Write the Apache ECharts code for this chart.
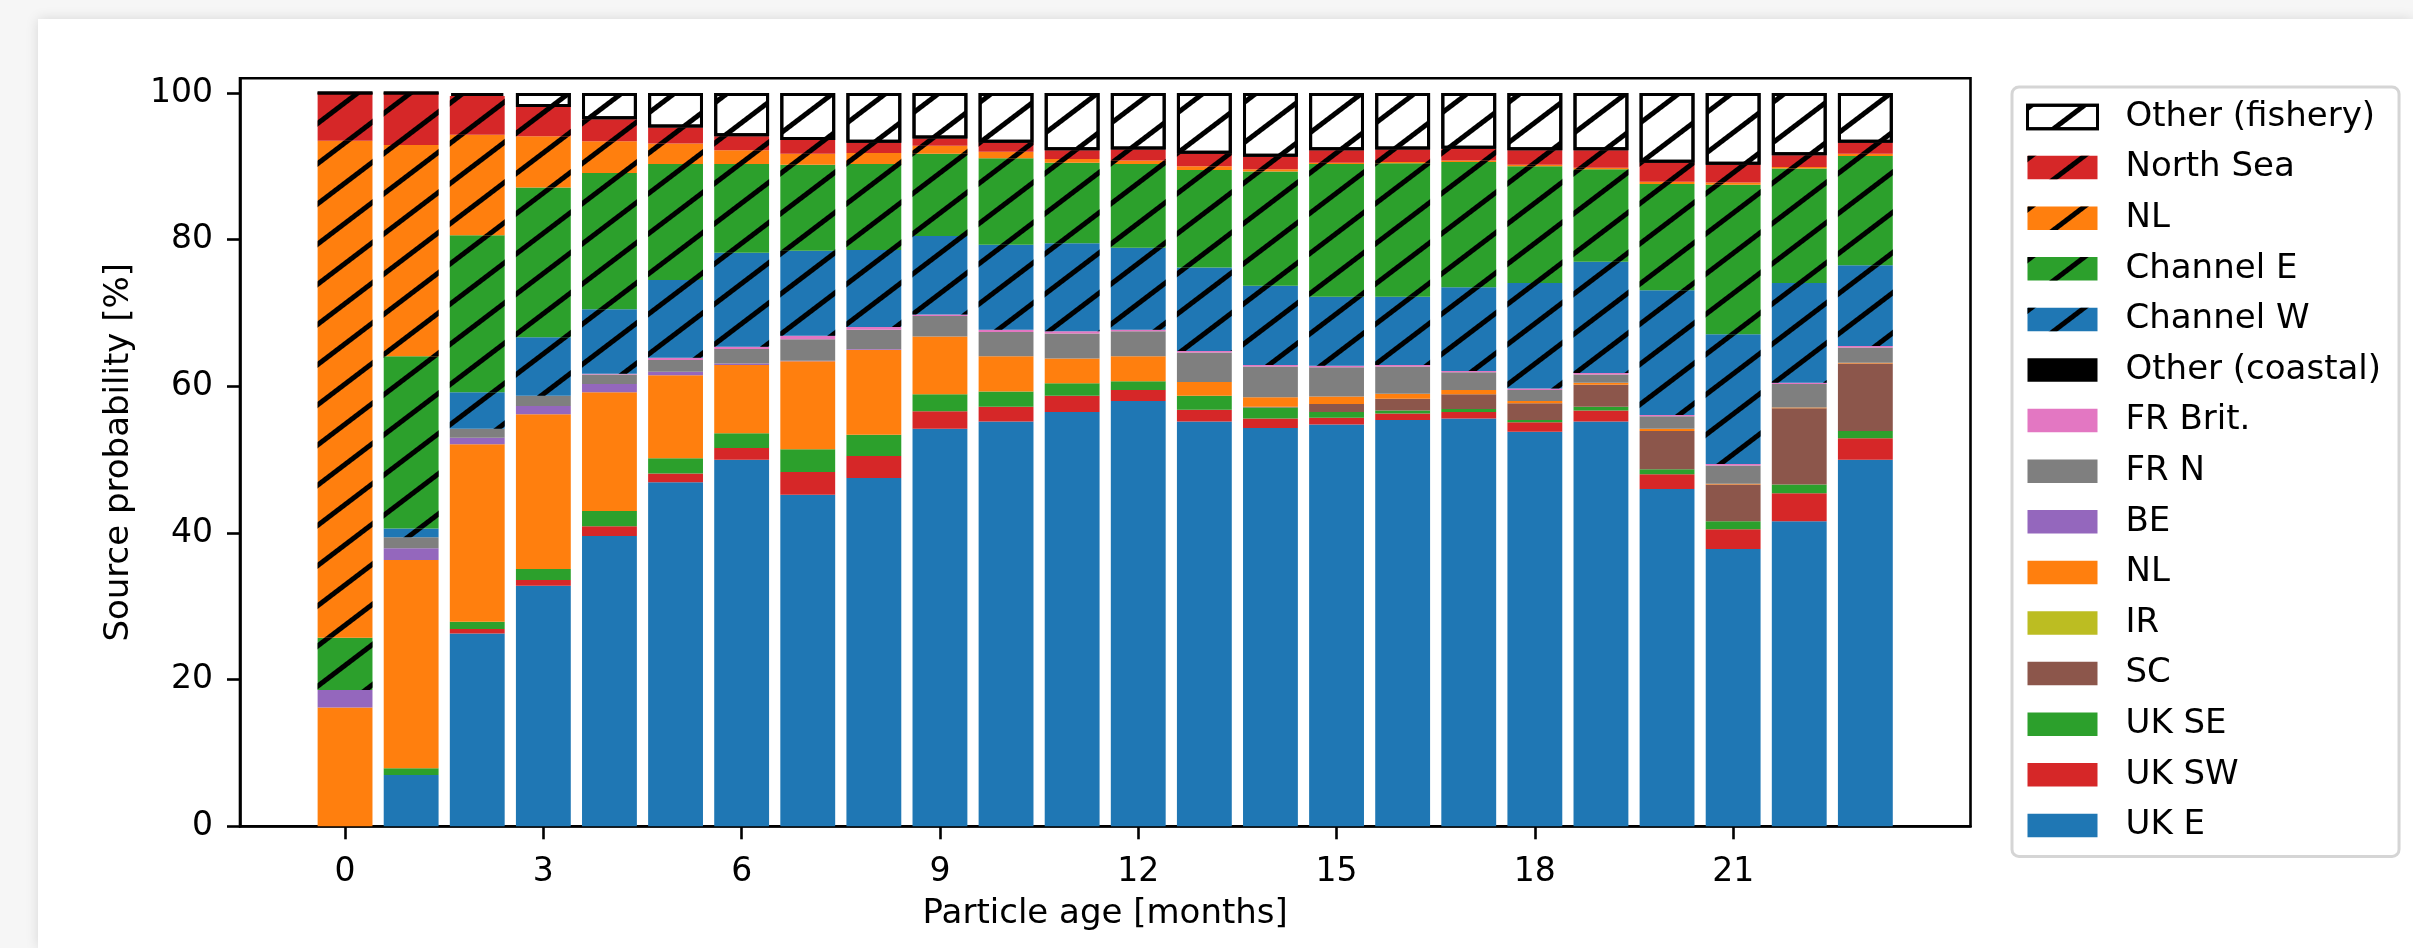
<!DOCTYPE html>
<html>
<head>
<meta charset="utf-8">
<script src="https://cdn.jsdelivr.net/npm/echarts@6/dist/echarts.min.js"></script>
<style>
html,body{margin:0;padding:0;width:2413px;height:948px;overflow:hidden;background:#f6f6f6;}
#card{position:absolute;left:38px;top:19px;width:2375px;height:929px;background:#fff;box-shadow:0 0 12px rgba(0,0,0,0.13);}
#chart{position:absolute;left:0;top:0;width:2413px;height:948px;}
</style>
</head>
<body>
<div id="card"></div>
<div id="chart"></div>
<script>
// ---- data (particle age in months) ----
const ages = ['0','1','2','3','4','5','6','7','8','9','10','11','12','13','14','15','16','17','18','19','20','21','22','23'];
const yTickValues = [0,20,40,60,80,100];

// coastal sources
const ukE     = [0,7.0,26.3,32.8,39.6,46.9,50.0,45.2,47.5,54.2,55.2,56.5,58.0,55.2,54.3,54.8,55.4,55.6,53.8,55.2,46.0,37.8,41.6,50.0];
const ukSW    = [0,0,0.6,0.8,1.3,1.2,1.6,3.1,3.0,2.4,2.0,2.2,1.5,1.6,1.3,0.9,0.9,0.9,1.3,1.5,2.0,2.7,3.8,2.9];
const ukSE    = [0,0.9,1.0,1.5,2.1,2.1,2.0,3.1,2.9,2.3,2.1,1.7,1.2,1.9,1.5,0.8,0.4,0.4,0.3,0.5,0.7,1.1,1.2,1.0];
const sc      = [0,0,0,0,0,0,0,0,0,0,0,0,0,0,0.1,1.1,1.6,2.0,2.3,3.0,5.2,5.0,10.4,9.2];
const ir      = [0,0,0,0,0,0,0,0,0,0,0,0,0,0,0,0,0,0,0,0,0,0,0,0];
const nlC     = [16.2,28.4,24.2,21.1,16.2,11.3,9.3,12.0,11.6,7.9,4.8,3.4,3.4,1.9,1.3,1.0,0.7,0.6,0.3,0.3,0.3,0.1,0.1,0.1];
const be      = [2.4,1.6,0.9,1.1,1.1,0.5,0.2,0.1,0.1,0,0,0,0,0,0,0,0,0,0,0,0,0,0,0];
const frN     = [0,1.5,1.2,1.4,1.3,1.6,2.0,2.9,2.6,2.8,3.3,3.4,3.4,4.0,4.2,4.0,3.7,2.4,1.5,1.1,1.7,2.5,3.2,2.1];
const frBrit  = [0,0,0,0,0.1,0.3,0.3,0.5,0.4,0.2,0.3,0.3,0.2,0.2,0.2,0.2,0.2,0.2,0.2,0.2,0.2,0.2,0.2,0.2];
const otherC  = [0,0,0,0,0,0,0,0,0,0,0,0,0,0,0,0,0,0,0,0,0,0,0,0];
// fishery sources
const chanW   = [0,1.2,5.0,8.0,8.8,10.6,12.8,11.6,10.5,10.7,11.6,12.0,11.2,11.4,10.8,9.4,9.3,11.4,14.4,15.2,17.0,17.7,13.6,11.0];
const chanE   = [7.1,23.5,21.4,20.4,18.6,15.8,12.1,11.7,11.7,11.2,11.8,11.0,11.4,13.3,15.6,18.1,18.2,17.1,15.9,12.6,14.5,20.4,15.6,14.9];
const nlF     = [67.8,28.8,13.7,7.0,4.3,2.8,1.9,1.5,1.5,1.1,0.9,0.5,0.5,0.5,0.3,0.2,0.2,0.2,0.2,0.2,0.3,0.3,0.2,0.3];
const northSea= [6.5,7.1,5.3,4.0,3.0,2.2,1.9,1.9,1.4,1.0,1.2,1.2,1.5,1.7,1.7,1.7,1.7,1.6,2.0,2.4,2.6,2.4,1.6,1.5];
const otherF  = [0,0,0.4,1.9,3.6,4.7,5.9,6.4,6.8,6.2,6.8,7.8,7.7,8.3,8.7,7.8,7.7,7.6,7.8,7.8,9.5,9.8,8.5,6.8];

// ---- styling ----
const FONT = 'DejaVu Sans';
const hatch = {
  symbol: 'rect', symbolSize: 1, symbolKeepAspect: false,
  color: '#000', dashArrayX: [1, 0], dashArrayY: [4.5, 26.5],
  rotation: -0.65
};

// stacking order: bottom -> top
const sources = [
  {key:'UK E', label:'UK E', data: ukE, color:'#1f77b4'},
  {key:'UK SW', label:'UK SW', data: ukSW, color:'#d62728'},
  {key:'UK SE', label:'UK SE', data: ukSE, color:'#2ca02c'},
  {key:'SC', label:'SC', data: sc, color:'#8c564b'},
  {key:'IR', label:'IR', data: ir, color:'#bcbd22'},
  {key:'NL (coastal)', label:'NL', data: nlC, color:'#ff7f0e'},
  {key:'BE', label:'BE', data: be, color:'#9467bd'},
  {key:'FR N', label:'FR N', data: frN, color:'#7f7f7f'},
  {key:'FR Brit.', label:'FR Brit.', data: frBrit, color:'#e377c2'},
  {key:'Other (coastal)', label:'Other (coastal)', data: otherC, color:'#000000'},
  {key:'Channel W', label:'Channel W', data: chanW, color:'#1f77b4', hatched:true},
  {key:'Channel E', label:'Channel E', data: chanE, color:'#2ca02c', hatched:true},
  {key:'NL (fishery)', label:'NL', data: nlF, color:'#ff7f0e', hatched:true},
  {key:'North Sea', label:'North Sea', data: northSea, color:'#d62728', hatched:true},
  {key:'Other (fishery)', label:'Other (fishery)', data: otherF, color:'#ffffff', hatched:true, edge:true}
];
const labelOf = {};
sources.forEach(s => { labelOf[s.key] = s.label; });

const series = sources.map(s => {
  const itemStyle = {color: s.color};
  if (s.hatched) itemStyle.decal = hatch;
  if (s.edge) { itemStyle.borderColor = '#000'; itemStyle.borderWidth = 3; }
  return {
    name: s.key, type: 'bar', stack: 'total', barWidth: '83%',
    xAxisIndex: 1, yAxisIndex: 1,
    data: s.data,
    itemStyle: itemStyle,
    emphasis: {disabled: true},
    animation: false
  };
});

const legendData = sources.slice().reverse().map(s => {
  if (s.edge) return {name: s.key, itemStyle: {borderColor: '#000', borderWidth: 3}};
  return {name: s.key};
});

const TOP = 78.3, BOTTOM = 121.7;
const chart = echarts.init(document.getElementById('chart'), null, {renderer: 'canvas'});
chart.setOption({
  backgroundColor: 'transparent',
  animation: false,
  textStyle: {fontFamily: FONT, color: '#000'},
  grid: [
    { // frame (axes box)
      left: 240, right: 442.5, top: TOP, bottom: BOTTOM,
      show: true, borderColor: '#000', borderWidth: 2.6, backgroundColor: 'transparent',
      outerBoundsMode: 'none', containLabel: false
    },
    { // bar area: 24 slots of equal width, centred on the ticks
      left: 312, width: 1586.4, top: TOP, bottom: BOTTOM,
      show: false, outerBoundsMode: 'none', containLabel: false
    }
  ],
  xAxis: [
    {
      gridIndex: 0, type: 'value', min: 0, max: 1,
      axisLine: {show: true, onZero: false, lineStyle: {color: '#000', width: 2.6}},
      axisTick: {show: false}, axisLabel: {show: false}, splitLine: {show: false}
    },
    {
      gridIndex: 1, type: 'category', data: ages, boundaryGap: true,
      name: 'Particle age [months]', nameLocation: 'middle', nameGap: 71,
      nameTextStyle: {fontFamily: FONT, fontSize: 34, color: '#000', lineHeight: 34},
      axisLine: {show: false},
      axisTick: {show: true, interval: 2, alignWithLabel: true, length: 13, lineStyle: {color: '#000', width: 2.6}},
      axisLabel: {interval: 2, fontFamily: FONT, fontSize: 33, color: '#000', margin: 30, lineHeight: 33},
      splitLine: {show: false}
    }
  ],
  yAxis: [
    {
      gridIndex: 0, type: 'value', min: 0, max: 102,
      name: 'Source probability [%]', nameLocation: 'middle', nameGap: 104,
      nameTextStyle: {fontFamily: FONT, fontSize: 34, color: '#000', lineHeight: 34},
      axisLine: {show: true, onZero: false, lineStyle: {color: '#000', width: 2.6}},
      axisTick: {show: true, length: 13, lineStyle: {color: '#000', width: 2.6}, customValues: yTickValues},
      axisLabel: {fontFamily: FONT, fontSize: 33, color: '#000', margin: 27, customValues: yTickValues},
      splitLine: {show: false}
    },
    {
      gridIndex: 1, type: 'value', min: 0, max: 102, show: false,
      splitLine: {show: false}
    }
  ],
  legend: {
    orient: 'vertical', left: 2012, top: 87,
    padding: [13, 18, 14, 14],
    itemWidth: 70, itemHeight: 23.5, itemGap: 16.6, icon: 'rect',
    backgroundColor: '#fff', borderColor: '#d5d5d5', borderWidth: 3, borderRadius: 7,
    selectedMode: false,
    textStyle: {fontFamily: FONT, fontSize: 34, color: '#000', lineHeight: 34, padding: [0, 0, 0, 23]},
    formatter: name => labelOf[name] || name,
    data: legendData
  },
  series: series
});
</script>
</body>
</html>
